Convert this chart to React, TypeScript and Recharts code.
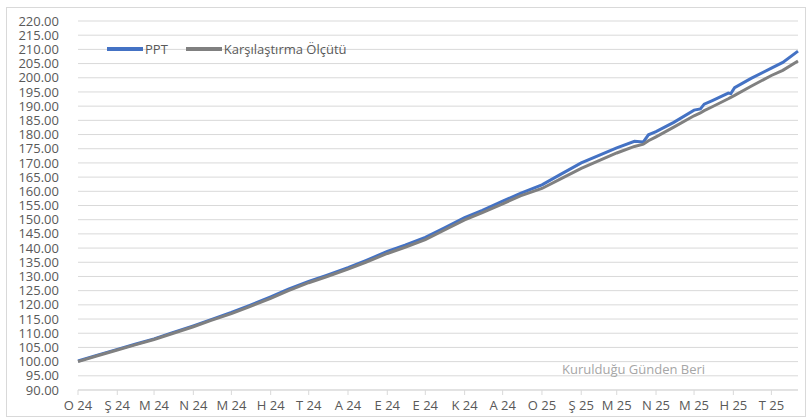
import { LineChart, Line, XAxis, YAxis, CartesianGrid } from "recharts";

const dates = [
  "2024-01-01", "2024-01-15", "2024-02-01", "2024-02-15", "2024-03-01", "2024-03-15",
  "2024-04-01", "2024-04-15", "2024-05-01", "2024-05-15", "2024-06-01", "2024-06-15",
  "2024-07-01", "2024-07-15", "2024-08-01", "2024-08-15", "2024-09-01", "2024-09-15",
  "2024-10-01", "2024-10-15", "2024-11-01", "2024-11-15", "2024-12-01", "2024-12-15",
  "2025-01-01", "2025-01-15", "2025-02-01", "2025-02-15", "2025-03-01", "2025-03-15",
  "2025-03-22", "2025-03-26", "2025-04-01", "2025-04-15", "2025-05-01", "2025-05-06",
  "2025-05-09", "2025-05-15", "2025-05-28", "2025-05-30", "2025-06-02", "2025-06-15",
  "2025-07-01", "2025-07-10", "2025-07-22",
];

const pptValues = [
  100.2, 102.1, 104.3, 106.1, 108.0, 110.1,
  112.6, 114.8, 117.3, 119.7, 122.8, 125.5,
  128.3, 130.4, 133.1, 135.6, 138.8, 141.0,
  143.8, 146.9, 150.7, 153.3, 156.5, 159.3,
  162.3, 165.8, 170.0, 172.7, 175.3, 177.6,
  177.4, 179.9, 181.0, 184.3, 188.6, 189.0,
  190.7, 191.9, 194.6, 194.4, 196.5, 199.8,
  203.4, 205.4, 209.4,
];

const benchValues = [
  100.0, 101.9, 104.1, 105.9, 107.8, 109.8,
  112.3, 114.5, 116.9, 119.3, 122.3, 125.0,
  127.8, 129.9, 132.6, 135.0, 138.1, 140.3,
  143.0, 146.1, 149.9, 152.5, 155.6, 158.4,
  161.0, 164.2, 168.1, 170.8, 173.5, 175.8,
  176.6, 177.8, 179.2, 182.6, 186.6, 187.6,
  188.4, 189.7, 192.6, 193.1, 193.8, 197.0,
  200.8, 202.6, 205.9,
];

const monthTicks = [
  "2024-01-01", "2024-02-01", "2024-03-01", "2024-04-01", "2024-05-01", "2024-06-01",
  "2024-07-01", "2024-08-01", "2024-09-01", "2024-10-01", "2024-11-01", "2024-12-01",
  "2025-01-01", "2025-02-01", "2025-03-01", "2025-04-01", "2025-05-01", "2025-06-01",
  "2025-07-01",
];
const monthLetters = ["O", "Ş", "M", "N", "M", "H", "T", "A", "E", "E", "K", "A"];

const yTicks = [
  90, 95, 100, 105, 110, 115, 120, 125, 130, 135, 140, 145, 150, 155,
  160, 165, 170, 175, 180, 185, 190, 195, 200, 205, 210, 215, 220,
];

const BLUE = "#4472C4";
const GRAY = "#808080";
const FONT = "'Open Sans', sans-serif";

const toDay = (s: string) => {
  const [y, m, d] = s.split("-").map(Number);
  return Date.UTC(y, m - 1, d) / 86400000;
};

const data = dates.map((d, i) => ({ t: toDay(d), ppt: pptValues[i], bench: benchValues[i] }));
const xTicks = monthTicks.map(toDay);

const fmtMonth = (t: number) => {
  const dt = new Date(t * 86400000);
  return `${monthLetters[dt.getUTCMonth()]} ${String(dt.getUTCFullYear()).slice(2)}`;
};

function LegendBox() {
  const item = (color: string, label: string) => (
    <div style={{ display: "flex", alignItems: "center", marginRight: 18 }}>
      <span style={{ width: 36, height: 4, background: color, display: "inline-block", marginRight: 2 }} />
      <span>{label}</span>
    </div>
  );
  return (
    <div
      style={{
        position: "absolute", left: 107, top: 41, display: "flex", fontFamily: FONT,
        fontSize: 13, color: "#595959", lineHeight: "16px",
      }}
    >
      {item(BLUE, "PPT")}
      {item(GRAY, "Karşılaştırma Ölçütü")}
    </div>
  );
}

export default function App() {
  return (
    <div style={{ position: "relative", width: 807, height: 418, background: "#fff" }}>
      <style>{`body{margin:0}`}</style>
      <div
        style={{
          position: "absolute", left: 6, top: 7, width: 800, height: 410,
          border: "1px solid #d9d9d9", boxSizing: "border-box",
        }}
      />
      <LineChart width={807} height={418} data={data} margin={{ top: 21, right: 9, bottom: 0, left: 0 }}>
        <CartesianGrid vertical={false} stroke="#d9d9d9" strokeWidth={1} />
        <XAxis
          dataKey="t"
          type="number"
          domain={[toDay("2024-01-01"), toDay("2025-07-22")]}
          ticks={xTicks}
          interval={0}
          height={28}
          tickFormatter={fmtMonth}
          stroke="#d9d9d9"
          tickSize={5}
          tickMargin={6}
          tick={{ fill: "#595959", fontSize: 13, fontFamily: FONT }}
        />
        <YAxis
          type="number"
          domain={[90, 220]}
          ticks={yTicks}
          interval={0}
          width={78}
          axisLine={false}
          tickLine={false}
          tickSize={0}
          tickMargin={19}
          tickFormatter={(v: number) => v.toFixed(2)}
          tick={{ fill: "#595959", fontSize: 13, fontFamily: FONT }}
        />
        <Line type="linear" dataKey="ppt" name="PPT" stroke={BLUE} strokeWidth={3} dot={false} isAnimationActive={false} />
        <Line type="linear" dataKey="bench" name="Karşılaştırma Ölçütü" stroke={GRAY} strokeWidth={3} dot={false} isAnimationActive={false} />
      </LineChart>
      <LegendBox />
      <div
        style={{
          position: "absolute", left: 562, top: 360, fontFamily: FONT, fontSize: 13,
          color: "#a6a6a6", whiteSpace: "nowrap",
        }}
      >
        Kurulduğu Günden Beri
      </div>
    </div>
  );
}
